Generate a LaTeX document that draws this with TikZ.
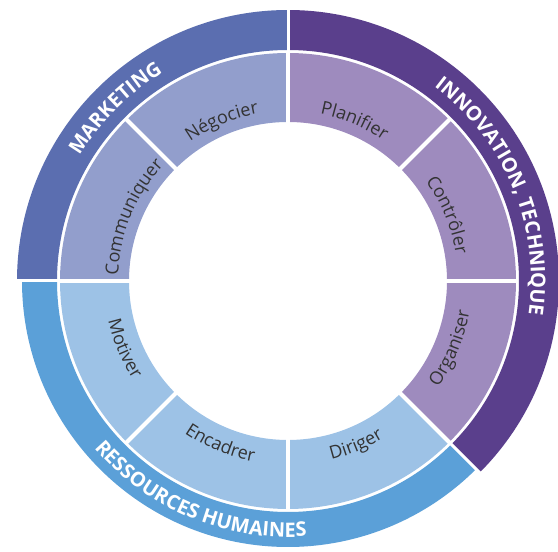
\documentclass[tikz,border=0pt]{standalone}
\usepackage{fontspec}
\setmainfont{Open Sans}
\usetikzlibrary{decorations.text}
\definecolor{mkO}{HTML}{5B6EB0}
\definecolor{inO}{HTML}{5A3F8C}
\definecolor{rhO}{HTML}{5BA0D8}
\definecolor{mkI}{HTML}{929ECC}
\definecolor{inI}{HTML}{9E8BBE}
\definecolor{rhI}{HTML}{9DC2E6}
\definecolor{labelgray}{HTML}{333333}
\newcommand\innerfont{\fontsize{18}{18}\selectfont}
\newcommand\outerfont{\fontsize{20}{20}\selectfont\bfseries}
\newcommand\annsec[5]{\fill[#1] (#2:#5) arc[start angle=#2,end angle=#3,radius=#5] -- (#3:#4) arc[start angle=#3,end angle=#2,radius=#4] -- cycle;}
\tikzset{
  sepline/.style={draw=white, line width=4pt},
  outsep/.style={draw=white, line width=3pt},
  inlabel/.style={decorate, decoration={text along path, text align=center, text color=labelgray, text={|\innerfont|#1}}},
  outlabel/.style={decorate, decoration={text along path, text align=center, text color=white, text={|\outerfont|#1}}}
}
\begin{document}
\begin{tikzpicture}[x=1pt,y=1pt]
\useasboundingbox (0,0) rectangle (558,552);
\coordinate (C) at (288,271);
\begin{scope}[shift={(C)}]
  % outer ring
  \annsec{mkO}{90}{180}{231}{271}
  \annsec{inO}{-45}{90}{231}{271}
  \annsec{rhO}{180}{315}{231}{266}
  % inner ring
  \annsec{mkI}{90}{180}{159}{228}
  \annsec{inI}{-45}{90}{159}{228}
  \annsec{rhI}{180}{315}{159}{228}
  % separators
  \foreach \a in {0,45,...,315} {\draw[sepline] (\a:156) -- (\a:229.5);}
  \foreach \a in {90,180,315} {\draw[outsep] (\a:229) -- (\a:273);}
  % outer labels
  \path[outlabel={MARKETING}] (180:243) arc[start angle=180,end angle=90,radius=243];
  \path[outlabel={INNOVATION, TECHNIQUE}] (90:243) arc[start angle=90,end angle=-45,radius=243];
  \path[outlabel={RESSOURCES HUMAINES}] (180:256) arc[start angle=180,end angle=315,radius=256];
  % inner labels (tops outward)
  \path[inlabel={Négocier}] (135:170) arc[start angle=135,end angle=90,radius=170];
  \path[inlabel={Communiquer}] (180:170) arc[start angle=180,end angle=135,radius=170];
  \path[inlabel={Planifier}] (90:170) arc[start angle=90,end angle=45,radius=170];
  \path[inlabel={Contrôler}] (45:170) arc[start angle=45,end angle=0,radius=170];
  % inner labels (tops inward)
  \path[inlabel={Organiser}] (-45:184) arc[start angle=-45,end angle=0,radius=184];
  \path[inlabel={Diriger}] (-90:184) arc[start angle=-90,end angle=-45,radius=184];
  \path[inlabel={Encadrer}] (-135:184) arc[start angle=-135,end angle=-90,radius=184];
  \path[inlabel={Motiver}] (180:184) arc[start angle=180,end angle=225,radius=184];
\end{scope}
\end{tikzpicture}
\end{document}
